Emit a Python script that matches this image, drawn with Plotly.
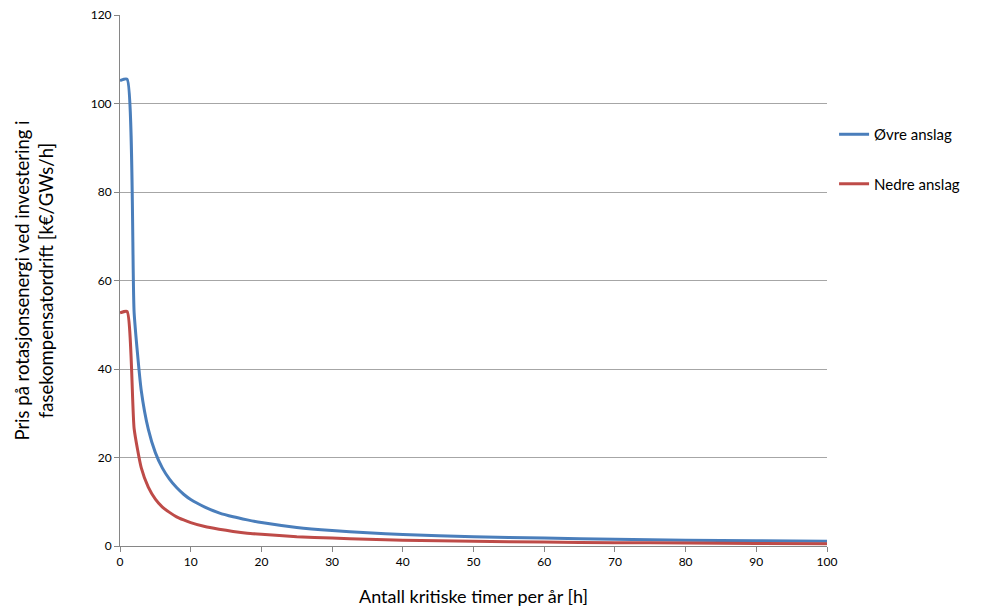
import plotly.graph_objects as go

x_vals = [0, 1, 2, 3, 4, 5, 6, 7, 8, 9, 10, 12, 14, 16, 18, 20, 25, 30, 35, 40, 50, 60, 70, 80, 90, 100]
ovre = [105.2, 105.5, 52.7, 35.2, 26.4, 21.1, 17.6, 15.1, 13.2, 11.7, 10.5, 8.8, 7.5, 6.6, 5.9, 5.3,
        4.2, 3.5, 3.0, 2.6, 2.1, 1.8, 1.5, 1.3, 1.2, 1.05]
nedre = [52.7, 53.0, 26.5, 17.7, 13.3, 10.6, 8.8, 7.6, 6.6, 5.9, 5.3, 4.4, 3.8, 3.3, 2.9, 2.65,
         2.1, 1.8, 1.5, 1.3, 1.06, 0.88, 0.76, 0.66, 0.59, 0.53]
series_names = ["Øvre anslag", "Nedre anslag"]
x_title = "Antall kritiske timer per år [h]"
y_title = "Pris på rotasjonsenergi ved investering i<br>fasekompensatordrift [k€/GWs/h]"

font = "Lato, 'Open Sans', sans-serif"

fig = go.Figure()
fig.add_trace(go.Scatter(x=x_vals, y=ovre, mode="lines", name=series_names[0],
                         line=dict(color="#4a7ebb", width=3, shape="spline", smoothing=0.5),
                         legendgroup="a"))
fig.add_trace(go.Scatter(x=x_vals, y=nedre, mode="lines", name=series_names[1],
                         line=dict(color="#be4b48", width=3, shape="spline", smoothing=0.5),
                         legendgroup="b"))

fig.update_layout(
    width=996, height=612,
    margin=dict(l=120, r=169, t=15, b=66),
    paper_bgcolor="white", plot_bgcolor="white",
    font=dict(family=font, color="#000000"),
    legend=dict(x=1.01, y=0.806, xanchor="left", yanchor="top",
                font=dict(size=15, family=font), tracegroupgap=27,
                itemwidth=30, bgcolor="rgba(0,0,0,0)"),
    xaxis=dict(range=[0, 100], tickvals=list(range(0, 101, 10)), automargin=False,
               showgrid=False, showline=True, linecolor="#868686", linewidth=1,
               ticks="outside", ticklen=5, tickcolor="#868686",
               tickfont=dict(size=12, family=font), zeroline=False,
               title=dict(text=x_title, font=dict(size=18, family=font), standoff=21)),
    yaxis=dict(range=[0, 120], tickvals=list(range(0, 121, 20)), automargin=False,
               showgrid=True, gridcolor="#a6a6a6", gridwidth=1,
               showline=True, linecolor="#868686", linewidth=1,
               ticks="outside", ticklen=5, tickcolor="#868686",
               tickfont=dict(size=12, family=font), zeroline=False,
               title=dict(text=y_title, font=dict(size=18.5, family=font), standoff=32)),
)

fig.write_html("out.html")
